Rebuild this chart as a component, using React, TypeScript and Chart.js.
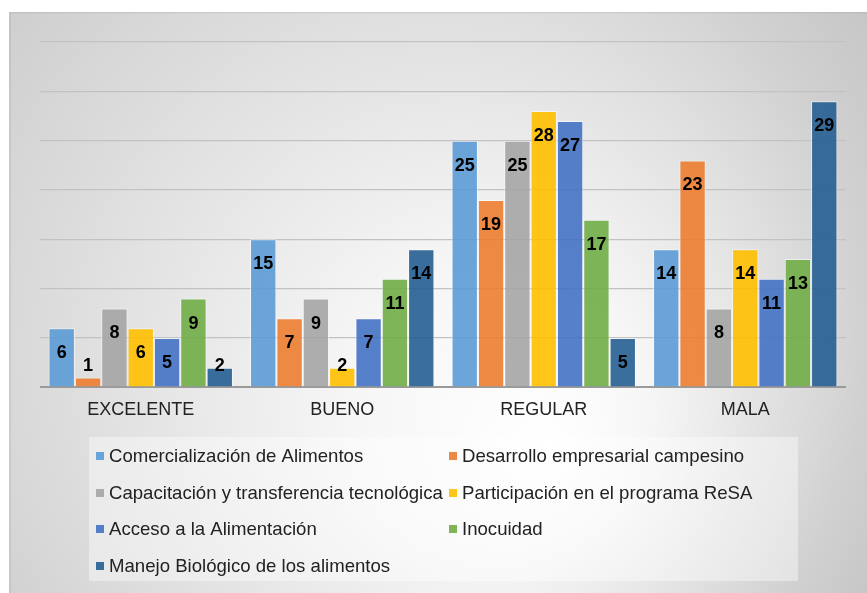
import React, { useEffect, useRef } from "react";
import { Chart, registerables } from "chart.js";

Chart.register(...registerables);

const categories = ["EXCELENTE", "BUENO", "REGULAR", "MALA"];
const seriesNames = [
  "Comercialización de Alimentos",
  "Desarrollo empresarial campesino",
  "Capacitación y transferencia tecnológica",
  "Participación en el programa ReSA",
  "Acceso a la Alimentación",
  "Inocuidad",
  "Manejo Biológico de los alimentos",
];
const comercializacion = [6, 15, 25, 14];
const desarrollo = [1, 7, 19, 23];
const capacitacion = [8, 9, 25, 8];
const participacion = [6, 2, 28, 14];
const acceso = [5, 7, 27, 11];
const inocuidad = [9, 11, 17, 13];
const manejo = [2, 14, 5, 29];
const seriesValues = [comercializacion, desarrollo, capacitacion, participacion, acceso, inocuidad, manejo];
const seriesColors = [
  "rgba(91,155,213,0.9)",
  "rgba(237,125,49,0.9)",
  "rgba(165,165,165,0.9)",
  "rgba(255,192,0,0.9)",
  "rgba(68,114,196,0.9)",
  "rgba(112,173,71,0.9)",
  "rgba(37,94,145,0.9)",
];
const yMax = 35;
const yStep = 5;

const FONT = "'Liberation Sans', Arial, sans-serif";

const backgroundPlugin = {
  id: "bgPlugin",
  beforeDraw(chart: any) {
    const ctx = chart.ctx;
    const w = chart.width;
    const h = chart.height;
    ctx.save();
    ctx.fillStyle = "#ffffff";
    ctx.fillRect(0, 0, w, h);
    const g = ctx.createRadialGradient(550, 450, 0, 350, 300, 600);
    g.addColorStop(0, "#ffffff");
    g.addColorStop(0.25, "#f6f6f6");
    g.addColorStop(0.8, "#d0d0d0");
    g.addColorStop(1, "#c6c6c6");
    ctx.fillStyle = g;
    ctx.fillRect(9, 12, w - 9, h - 12);
    ctx.fillStyle = "rgba(0,0,0,0.06)";
    ctx.fillRect(9, 12, 2, h - 12);
    ctx.fillRect(11, 12, w - 11, 1.5);
    // legend panel
    ctx.fillStyle = "rgba(255,255,255,0.4)";
    ctx.fillRect(89, 437, 709, 144);
    ctx.restore();
  },
};

const dataLabelPlugin = {
  id: "dataLabels",
  afterDatasetsDraw(chart: any) {
    const ctx = chart.ctx;
    ctx.save();
    ctx.font = `bold 18px ${FONT}`;
    ctx.fillStyle = "#000000";
    ctx.textAlign = "center";
    ctx.textBaseline = "middle";
    chart.data.datasets.forEach((ds: any, di: number) => {
      const meta = chart.getDatasetMeta(di);
      meta.data.forEach((el: any, i: number) => {
        const top = el.y;
        const base = el.base;
        const cy = Math.min(top + 25, base - 20);
        ctx.fillText(String(ds.data[i]), el.x, cy);
      });
    });
    ctx.restore();
  },
};

const legendPlugin = {
  id: "customLegend",
  afterDraw(chart: any) {
    const ctx = chart.ctx;
    ctx.save();
    ctx.font = `18.6px ${FONT}`;
    ctx.textBaseline = "middle";
    ctx.textAlign = "left";
    const colX = [96, 449];
    const rowY = [456, 493, 529, 566];
    chart.data.datasets.forEach((ds: any, i: number) => {
      const col = i % 2;
      const row = Math.floor(i / 2);
      const x = colX[col];
      const y = rowY[row];
      ctx.fillStyle = ds.backgroundColor;
      ctx.fillRect(x, y - 4, 8, 8);
      ctx.fillStyle = "#222222";
      ctx.fillText(ds.label, x + 13, y + 1);
    });
    ctx.restore();
  },
};

export default function App() {
  const ref = useRef<HTMLCanvasElement | null>(null);
  useEffect(() => {
    if (!ref.current) return;
    const chart = new Chart(ref.current, {
      type: "bar",
      data: {
        labels: categories,
        datasets: seriesNames.map((name, i) => ({
          label: name,
          data: seriesValues[i],
          backgroundColor: seriesColors[i],
          borderColor: "rgba(255,255,255,0.55)",
          borderWidth: 1,
          barPercentage: 1,
          categoryPercentage: 0.915,
        })),
      },
      options: {
        responsive: false,
        animation: false,
        devicePixelRatio: 1,
        layout: { padding: { left: 40, right: 21, top: 42, bottom: 160 } },
        plugins: {
          legend: { display: false },
          tooltip: { enabled: false },
          title: { display: false },
        },
        scales: {
          x: {
            grid: { display: false, drawTicks: false },
            border: { display: false },
            ticks: {
              padding: 12,
              color: "#222222",
              font: { family: FONT, size: 18 },
              maxRotation: 0,
            },
          },
          y: {
            min: 0,
            max: yMax,
            ticks: { display: false, stepSize: yStep },
            border: { display: false },
            grid: {
              drawTicks: false,
              color: (c: any) => (c.tick && c.tick.value === 0 ? "#9a9a9a" : "#c2c2c2"),
              lineWidth: (c: any) => (c.tick && c.tick.value === 0 ? 2 : 1.3),
            },
          },
        },
      },
      plugins: [backgroundPlugin, dataLabelPlugin, legendPlugin],
    });
    return () => chart.destroy();
  }, []);
  return (
    <div style={{ position: "absolute", left: 0, top: 0, width: 867, height: 593 }}>
      <canvas ref={ref} width={867} height={593} style={{ display: "block" }} />
    </div>
  );
}
